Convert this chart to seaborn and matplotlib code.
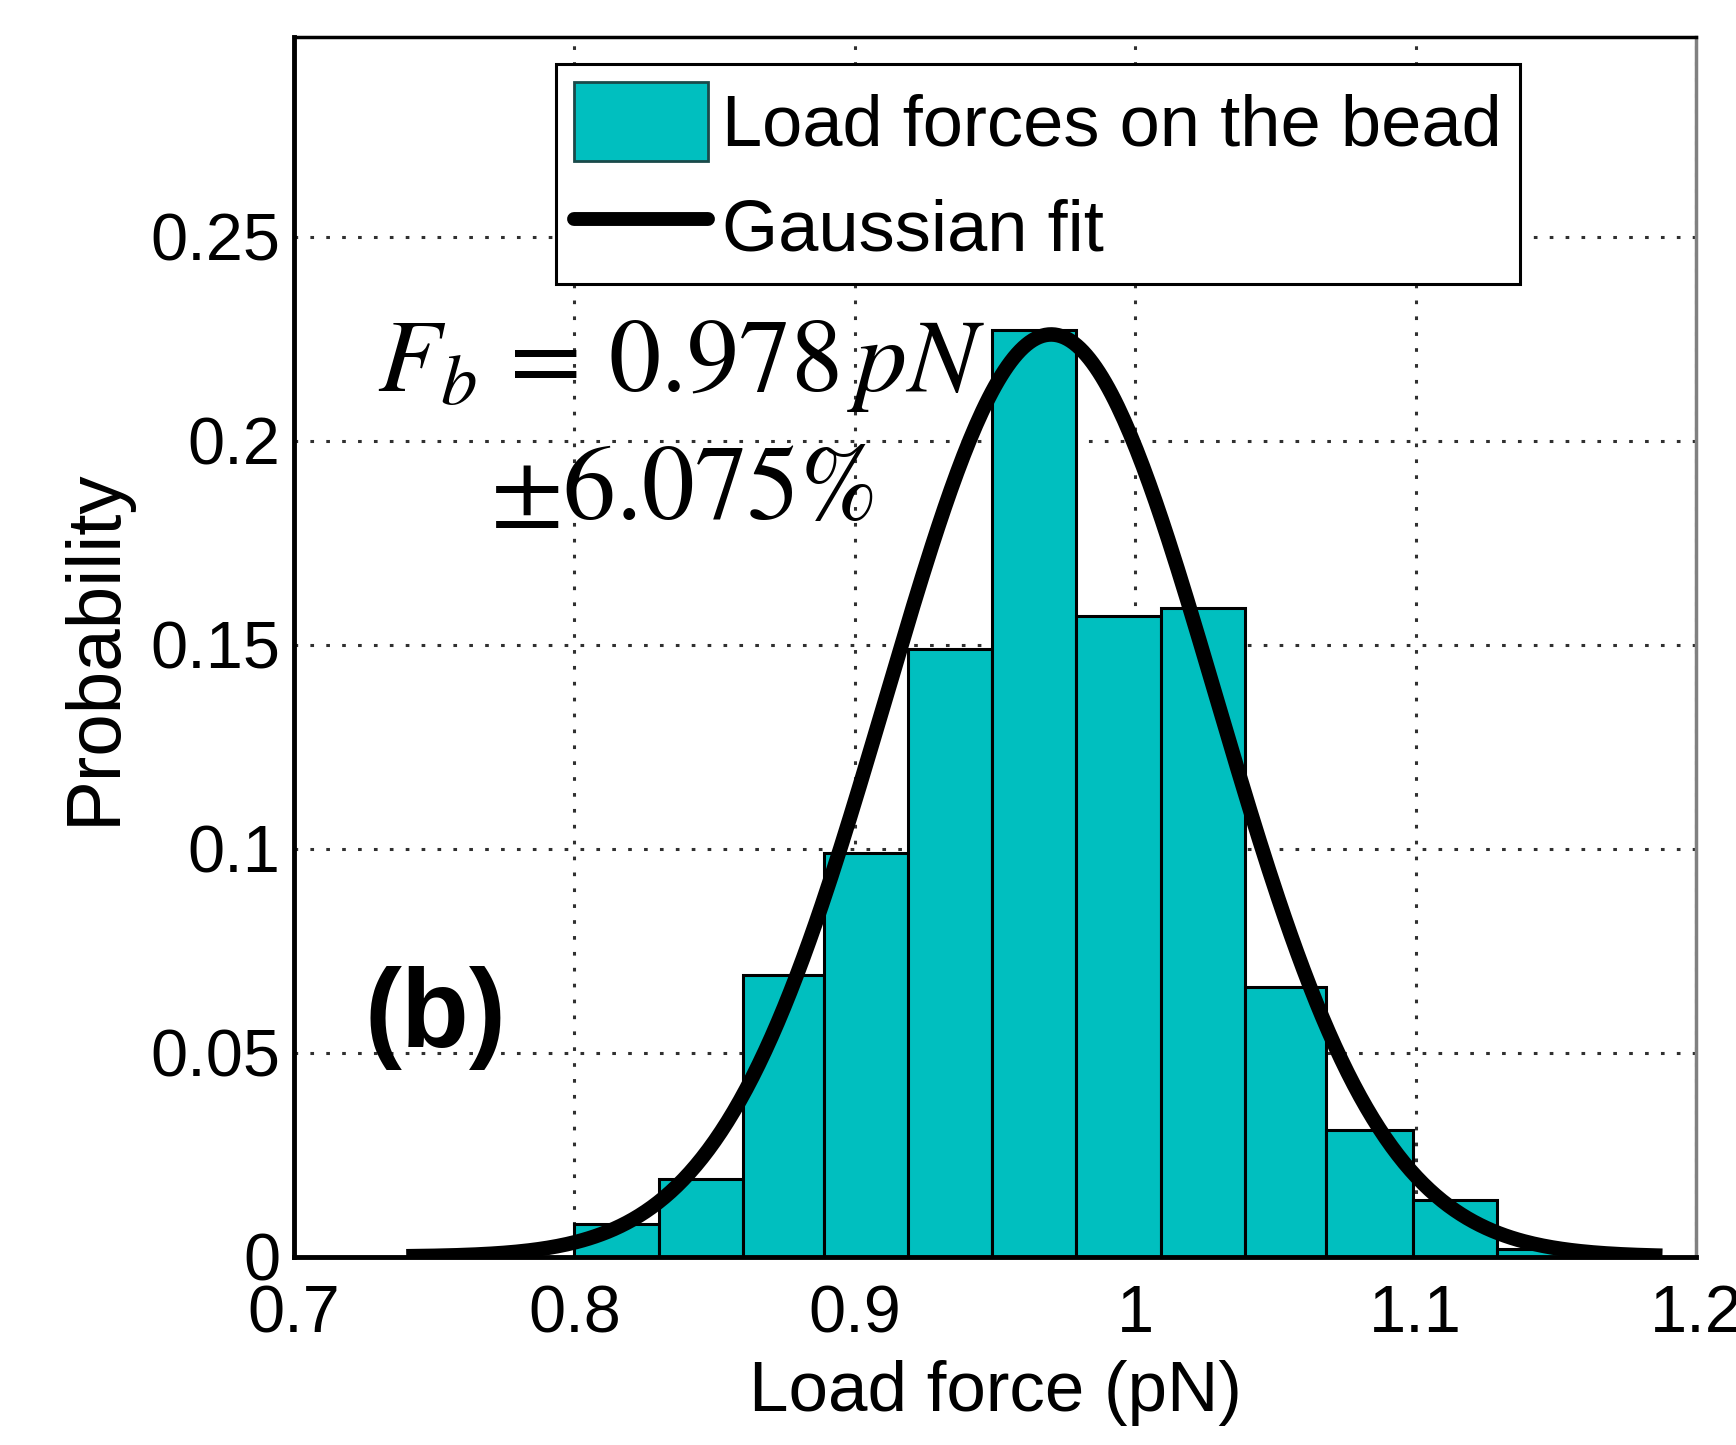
import numpy as np
import pandas as pd
import matplotlib
matplotlib.use("Agg")
import matplotlib.pyplot as plt
import seaborn as sns
from matplotlib.patches import Patch
from matplotlib.lines import Line2D

# ---- data ----
bin_edges = [0.800, 0.830, 0.860, 0.889, 0.919, 0.949, 0.979,
             1.009, 1.039, 1.068, 1.099, 1.129, 1.159]
bin_probs = [0.008, 0.019, 0.069, 0.099, 0.149, 0.227,
             0.157, 0.159, 0.066, 0.031, 0.014, 0.002]
fit_mean = 0.970
fit_sigma = 0.0589
fit_peak = 0.226
fit_range = [0.740, 1.188]
x_ticks = [0.7, 0.8, 0.9, 1.0, 1.1, 1.2]
x_ticklabels = ["0.7", "0.8", "0.9", "1", "1.1", "1.2"]
y_ticks = [0, 0.05, 0.10, 0.15, 0.20, 0.25]
y_ticklabels = ["0", "0.05", "0.1", "0.15", "0.2", "0.25"]

sns.set_theme(style="white")
plt.rcParams['font.family'] = ['Liberation Sans', 'DejaVu Sans']
plt.rcParams['mathtext.fontset'] = 'stix'
plt.rcParams['text.color'] = 'black'
plt.rcParams['axes.labelcolor'] = 'black'

fig = plt.figure(figsize=(17.36, 14.45), dpi=100)
ax = fig.add_axes([0.1694, 0.1303, 0.8076, 0.8444])

centers = [(a + b) / 2 for a, b in zip(bin_edges[:-1], bin_edges[1:])]
df = pd.DataFrame({"x": centers, "w": bin_probs})
bar_color = "#00BFBF"
sns.histplot(data=df, x="x", weights="w", bins=bin_edges, stat="count",
             color=bar_color, edgecolor="black", linewidth=2.2, alpha=1.0,
             ax=ax, zorder=2)

xs = np.linspace(fit_range[0], fit_range[1], 400)
ys = fit_peak * np.exp(-0.5 * ((xs - fit_mean) / fit_sigma) ** 2)
ax.plot(xs, ys, color="black", linewidth=10.5, solid_capstyle="butt", zorder=3)

ax.set_xlim(0.7, 1.2)
ax.set_ylim(0, 0.299)
ax.set_xticks(x_ticks)
ax.set_xticklabels(x_ticklabels)
ax.set_yticks(y_ticks)
ax.set_yticklabels(y_ticklabels)
ax.tick_params(axis="both", labelsize=48, direction="in", length=10,
               width=2, colors="black")
ax.tick_params(axis="y", pad=10)
ax.tick_params(axis="x", pad=20)
ax.set_xlabel("Load force (pN)", fontsize=51, labelpad=10)
ax.set_ylabel("Probability", fontsize=55, labelpad=14)

ax.grid(True, linestyle=(0, (1.2, 4)), color="#303030", linewidth=2.2, zorder=0)
ax.set_axisbelow(True)

for side in ["left", "bottom", "top"]:
    ax.spines[side].set_color("black")
ax.spines["left"].set_linewidth(3.5)
ax.spines["bottom"].set_linewidth(3.5)
ax.spines["top"].set_linewidth(2.5)
ax.spines["right"].set_color("#808080")
ax.spines["right"].set_linewidth(2.5)

handles = [Patch(facecolor=bar_color, edgecolor="#1a4a4a", linewidth=2),
           Line2D([0], [0], color="black", linewidth=10)]
leg = ax.legend(handles, ["Load forces on the bead", "Gaussian fit"],
                loc="upper left", bbox_to_anchor=(0.187, 0.9775),
                borderaxespad=0, fontsize=52, frameon=True, fancybox=False,
                handlelength=1.85, handleheight=1.3, handletextpad=0.2,
                borderpad=0.25, labelspacing=0.36)
leg.get_frame().set_edgecolor("black")
leg.get_frame().set_linewidth(2.2)
leg.get_frame().set_alpha(1.0)
leg.set_zorder(5)

ax.text(0.838, 0.2183, r"$F_b\,=\,0.978\,pN$", fontsize=75, color="black",
        ha="center", va="center", zorder=4)
ax.text(0.8385, 0.1875, r"$\pm 6.075\%$", fontsize=76, color="black",
        ha="center", va="center", zorder=4)
ax.text(0.7505, 0.0585, "(b)", fontsize=80, fontweight="bold", color="black",
        ha="center", va="center", zorder=4)

fig.savefig("out.png", dpi=100)
